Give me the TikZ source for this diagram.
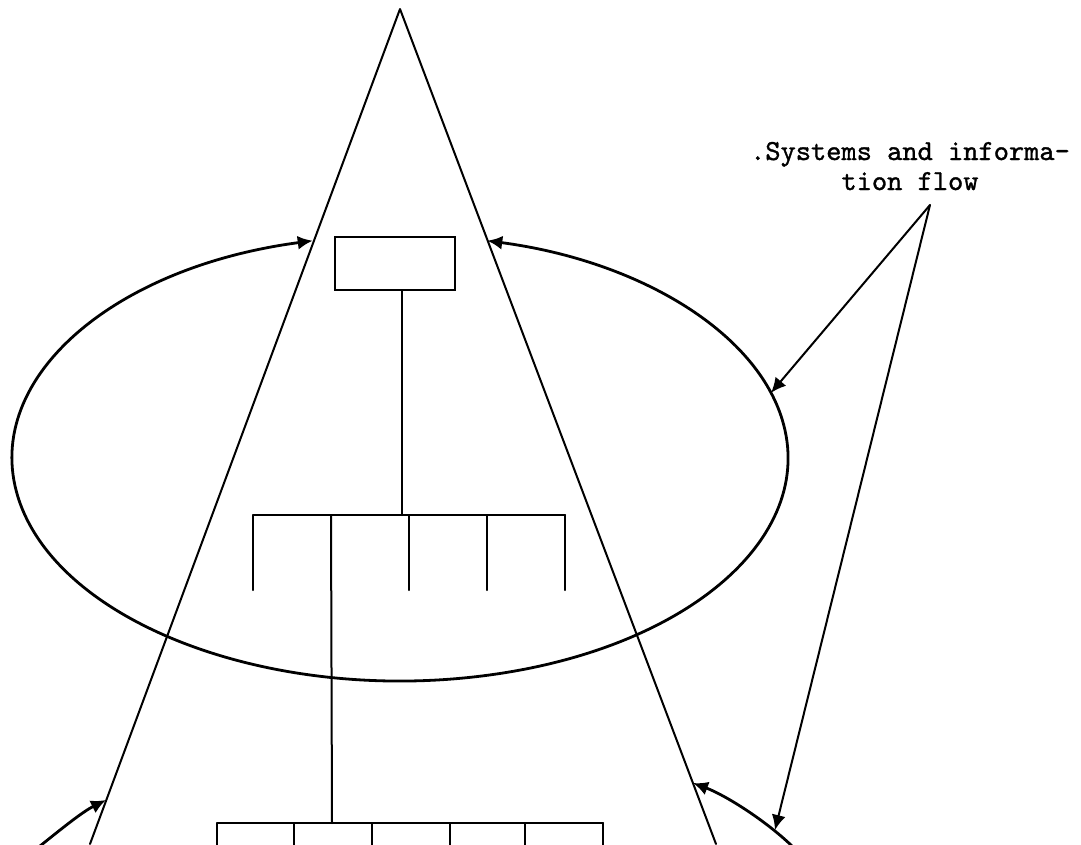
\documentclass[tikz,border=0pt]{standalone}
\usepackage{fontspec}
\newfontfamily\typew{lmmono10-regular.otf}[FakeBold=1.2]
\usetikzlibrary{arrows.meta,calc}
\tikzset{
  thin line/.style={line width=2pt, line cap=round, line join=round},
  ell line/.style={line width=2.8pt},
  blob/.style={-{Latex[length=15pt,width=14pt]}},
  blobboth/.style={{Latex[length=15pt,width=14pt]}-{Latex[length=15pt,width=14pt]}},
  blobstart/.style={{Latex[length=15pt,width=14pt]}-},
  boxnode/.style={draw, line width=2.2pt, minimum width=120pt, minimum height=53pt, inner sep=0pt},
  lbl/.style={font=\fontsize{29}{30}\selectfont\typew, inner sep=0pt, anchor=base}
}
\begin{document}
\begin{tikzpicture}[x=1pt,y=-1pt]
\useasboundingbox (0,0) rectangle (1081,844);
% ellipse (open at the top, arrows onto the cone)
\coordinate (ec) at (400,458);
\draw[ell line, blobboth] (ec) ++(103:388pt and 223pt) coordinate (etl)
  arc[start angle=103, end angle=437, x radius=388pt, y radius=223pt];
\coordinate (eright) at ($(ec)+(17:388pt and 223pt)$);
% cone
\coordinate (apex) at (400,9);
\coordinate (bl) at (90,844);
\coordinate (br) at (716,844);
\draw[thin line] (bl) -- (apex) -- (br);
% top box and first tree
\node[boxnode] (box) at (395,263.5) {};
\coordinate (s0) at (402,290);
\coordinate (s1) at (402,515);
\draw[thin line] (s0) -- (s1);
\coordinate (h1l) at (253,515);
\coordinate (h1r) at (565,515);
\draw[thin line] (h1l) -- (h1r);
\foreach \x in {253,409,487,565} {\draw[thin line] (\x,515) -- (\x,590);}
\coordinate (t2) at (331,515);
\coordinate (t2b) at (332,823);
\draw[thin line] (t2) -- (t2b);
% second tree
\coordinate (h2l) at (217,823);
\coordinate (h2r) at (603,823);
\draw[thin line] (h2l) -- (h2r);
\foreach \x in {217,294,372,450,525,603} {\draw[thin line] (\x,823) -- (\x,846);}
% lower ellipse pieces
\coordinate (ll0) at (40,846);
\coordinate (ll1) at (106,800);
\draw[ell line, blob] (ll0) .. controls (60,830) and (82,812) .. (ll1);
\coordinate (rl0) at (693,783);
\coordinate (rl1) at (792,846);
\draw[ell line, blobstart] (rl0) .. controls (725,795) and (765,820) .. (rl1);
\coordinate (rlp) at (775,830);
% label and pointers
\node[lbl] (lab1) at (910,160) {.Systems and informa-};
\node[lbl] (lab2) at (910,190) {tion flow};
\coordinate (pt) at (930,205);
\draw[thin line, blob] (pt) -- (eright);
\draw[thin line, blob] (pt) -- (rlp);
\end{tikzpicture}
\end{document}
